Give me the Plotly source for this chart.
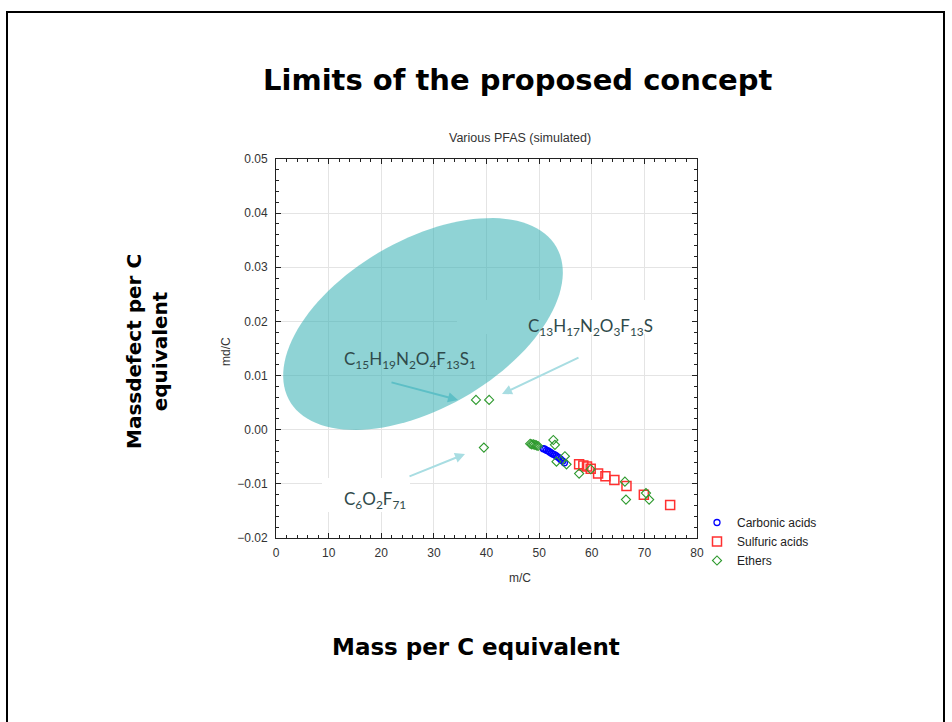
import numpy as np
import plotly.graph_objects as go

# ---------------- data ----------------
carb_x = [50.8, 51.1, 51.4, 51.7, 52.0, 52.3, 52.6, 52.9, 53.2, 53.5, 53.8, 54.1, 54.5, 54.8]
carb_y = [-0.0035, -0.0036, -0.0038, -0.0039, -0.0041, -0.0043, -0.0045, -0.0046, -0.0048, -0.0050, -0.0052, -0.0055, -0.0058, -0.0061]
sulf_x = [57.6, 58.4, 59.1, 59.8, 61.2, 62.6, 64.3, 66.6, 69.9, 74.9]
sulf_y = [-0.0064, -0.0066, -0.0068, -0.0072, -0.0081, -0.0086, -0.0093, -0.0104, -0.0120, -0.0139]
eth_x = [38.0, 40.5, 39.5, 48.3, 48.6, 48.9, 49.2, 49.5, 49.8, 52.7, 53.0, 53.3, 54.9, 55.2,
         57.6, 59.8, 66.3, 66.5, 70.3, 70.9]
eth_y = [0.0055, 0.0055, -0.0033, -0.0026, -0.0027, -0.0027, -0.0028, -0.0029, -0.0030, -0.0019, -0.0028,
         -0.0059, -0.0049, -0.0064, -0.0081, -0.0073, -0.0096, -0.0129, -0.0117, -0.0129]

x_range = [0, 80]
y_range = [-0.02, 0.05]
x_ticks = [0, 10, 20, 30, 40, 50, 60, 70, 80]
y_ticks = [-0.02, -0.01, 0.0, 0.01, 0.02, 0.03, 0.04, 0.05]

# ---------------- layout geometry (pixels) ----------------
W, H = 952, 722
L, R, T, B = 276, 697, 159, 538  # plot area edges in px
PW, PH = R - L, B - T


def px2x(p):
    return x_range[0] + (p - L) / PW * (x_range[1] - x_range[0])


def py2y(p):
    return y_range[0] + (B - p) / PH * (y_range[1] - y_range[0])


def pxp(p):
    return (p - L) / PW


def pyp(p):
    return (B - p) / PH


fig = go.Figure()
fig.add_trace(go.Scatter(x=carb_x, y=carb_y, mode="markers", name="Carbonic acids",
                         marker=dict(symbol="circle-open", size=6, color="#0000ff", line=dict(width=1.3))))
fig.add_trace(go.Scatter(x=sulf_x, y=sulf_y, mode="markers", name="Sulfuric acids",
                         marker=dict(symbol="square-open", size=9, color="#ff3030", line=dict(width=1.5))))
fig.add_trace(go.Scatter(x=eth_x, y=eth_y, mode="markers", name="Ethers",
                         marker=dict(symbol="diamond-open", size=7, color="#2e9a2e", line=dict(width=1.1))))

shapes = []
# white boxes hiding gridlines behind labels
for (x0, y0, x1, y1) in [(457, 300, 695, 334), (322, 478, 410, 512)]:
    shapes.append(dict(type="rect", xref="x", yref="y", x0=px2x(x0), x1=px2x(x1), y0=py2y(y1), y1=py2y(y0),
                       fillcolor="white", line=dict(width=0), layer="between"))

# ellipse (highlight region)
cx, cy, a, b, th = 423, 324, 154, 84, np.radians(30)
t = np.linspace(0, 2 * np.pi, 120)
ex = cx + a * np.cos(t) * np.cos(th) + b * np.sin(t) * np.sin(th)
ey = cy - a * np.cos(t) * np.sin(th) + b * np.sin(t) * np.cos(th)
path = "M " + " L ".join(f"{px2x(u):.4f},{py2y(v):.6f}" for u, v in zip(ex, ey)) + " Z"
shapes.append(dict(type="path", xref="x", yref="y", path=path, fillcolor="rgb(51,175,179)",
                   opacity=0.55, line=dict(width=0), layer="above"))

# outer slide border
shapes.append(dict(type="rect", xref="paper", yref="paper", x0=pxp(7), x1=pxp(944), y0=pyp(760), y1=pyp(12),
                   line=dict(color="black", width=2), fillcolor="rgba(0,0,0,0)", layer="above"))

annos = []
C = dict(xanchor="center", yanchor="middle", showarrow=False)
lab_font = dict(family="Lato, Open Sans, sans-serif", size=17, color="#2f4a4b")
annos.append(dict(x=px2x(410), y=py2y(360), xref="x", yref="y", **C,
                  text="C<sub>15</sub>H<sub>19</sub>N<sub>2</sub>O<sub>4</sub>F<sub>13</sub>S<sub>1</sub>", font=lab_font))
annos.append(dict(x=px2x(590), y=py2y(327), xref="x", yref="y", **C,
                  text="C<sub>13</sub>H<sub>17</sub>N<sub>2</sub>O<sub>3</sub>F<sub>13</sub>S", font=lab_font))
annos.append(dict(x=px2x(375), y=py2y(500), xref="x", yref="y", **C,
                  text="C<sub>6</sub>O<sub>2</sub>F<sub>71</sub>", font=lab_font))

# arrows
for (tx, ty, hx, hy, col) in [(390, 382, 458, 400, "#5dbfc6"),
                              (580, 357, 502, 394, "#a8dde2"),
                              (408, 477, 465, 454, "#a8dde2")]:
    annos.append(dict(x=px2x(hx), y=py2y(hy), ax=px2x(tx), ay=py2y(ty), xref="x", yref="y",
                      axref="x", ayref="y", text="", showarrow=True, arrowhead=2, arrowsize=1,
                      arrowwidth=2, arrowcolor=col))

small = dict(family="Liberation Sans, Arial, sans-serif", size=12, color="#333333")
annos.append(dict(x=pxp(520), y=pyp(138), xref="paper", yref="paper", **C,
                  text="Various PFAS (simulated)", font=dict(family="Liberation Sans, Arial, sans-serif",
                                                             size=12.5, color="#333333")))
annos.append(dict(x=pxp(520), y=pyp(578), xref="paper", yref="paper", **C,
                  text="m/C", font=small))
annos.append(dict(x=pxp(226), y=pyp(352), xref="paper", yref="paper", **C,
                  text="md/C", font=small, textangle=-90))

big = "DejaVu Sans, sans-serif"
annos.append(dict(x=pxp(518), y=pyp(80), xref="paper", yref="paper", **C,
                  text="<b>Limits of the proposed concept</b>", font=dict(family=big, size=29, color="black")))
annos.append(dict(x=pxp(476), y=pyp(647), xref="paper", yref="paper", **C,
                  text="<b>Mass per C equivalent</b>", font=dict(family=big, size=23, color="black")))
annos.append(dict(x=pxp(147), y=pyp(352), xref="paper", yref="paper", **C,
                  text="<b>Massdefect per C<br>equivalent</b>", textangle=-90,
                  font=dict(family=big, size=20, color="black")))

axis_common = dict(showline=True, linecolor="#222222", linewidth=1, mirror="allticks",
                   ticks="inside", ticklen=5, tickcolor="#222222", showgrid=True,
                   gridcolor="#e4e4e4", gridwidth=1, zeroline=False, tickfont=small)

fig.update_layout(
    width=W, height=H,
    margin=dict(l=L, r=W - R, t=T, b=H - B),
    paper_bgcolor="white", plot_bgcolor="white",
    xaxis=dict(range=x_range, tickvals=x_ticks, ticklabelstandoff=4, **axis_common,
               minor=dict(dtick=2, ticks="inside", ticklen=3, tickcolor="#222222", showgrid=False)),
    yaxis=dict(range=y_range, tickvals=y_ticks, tickformat=".2f", ticklabelstandoff=5, **axis_common,
               minor=dict(dtick=0.002, ticks="inside", ticklen=3, tickcolor="#222222", showgrid=False)),
    legend=dict(x=pxp(697), y=pyp(508), xanchor="left", yanchor="top",
                font=dict(family="Liberation Sans, Arial, sans-serif", size=12, color="#222222"),
                bgcolor="rgba(0,0,0,0)", tracegroupgap=0),
    shapes=shapes, annotations=annos, showlegend=True,
)

fig.write_html("out.html")
